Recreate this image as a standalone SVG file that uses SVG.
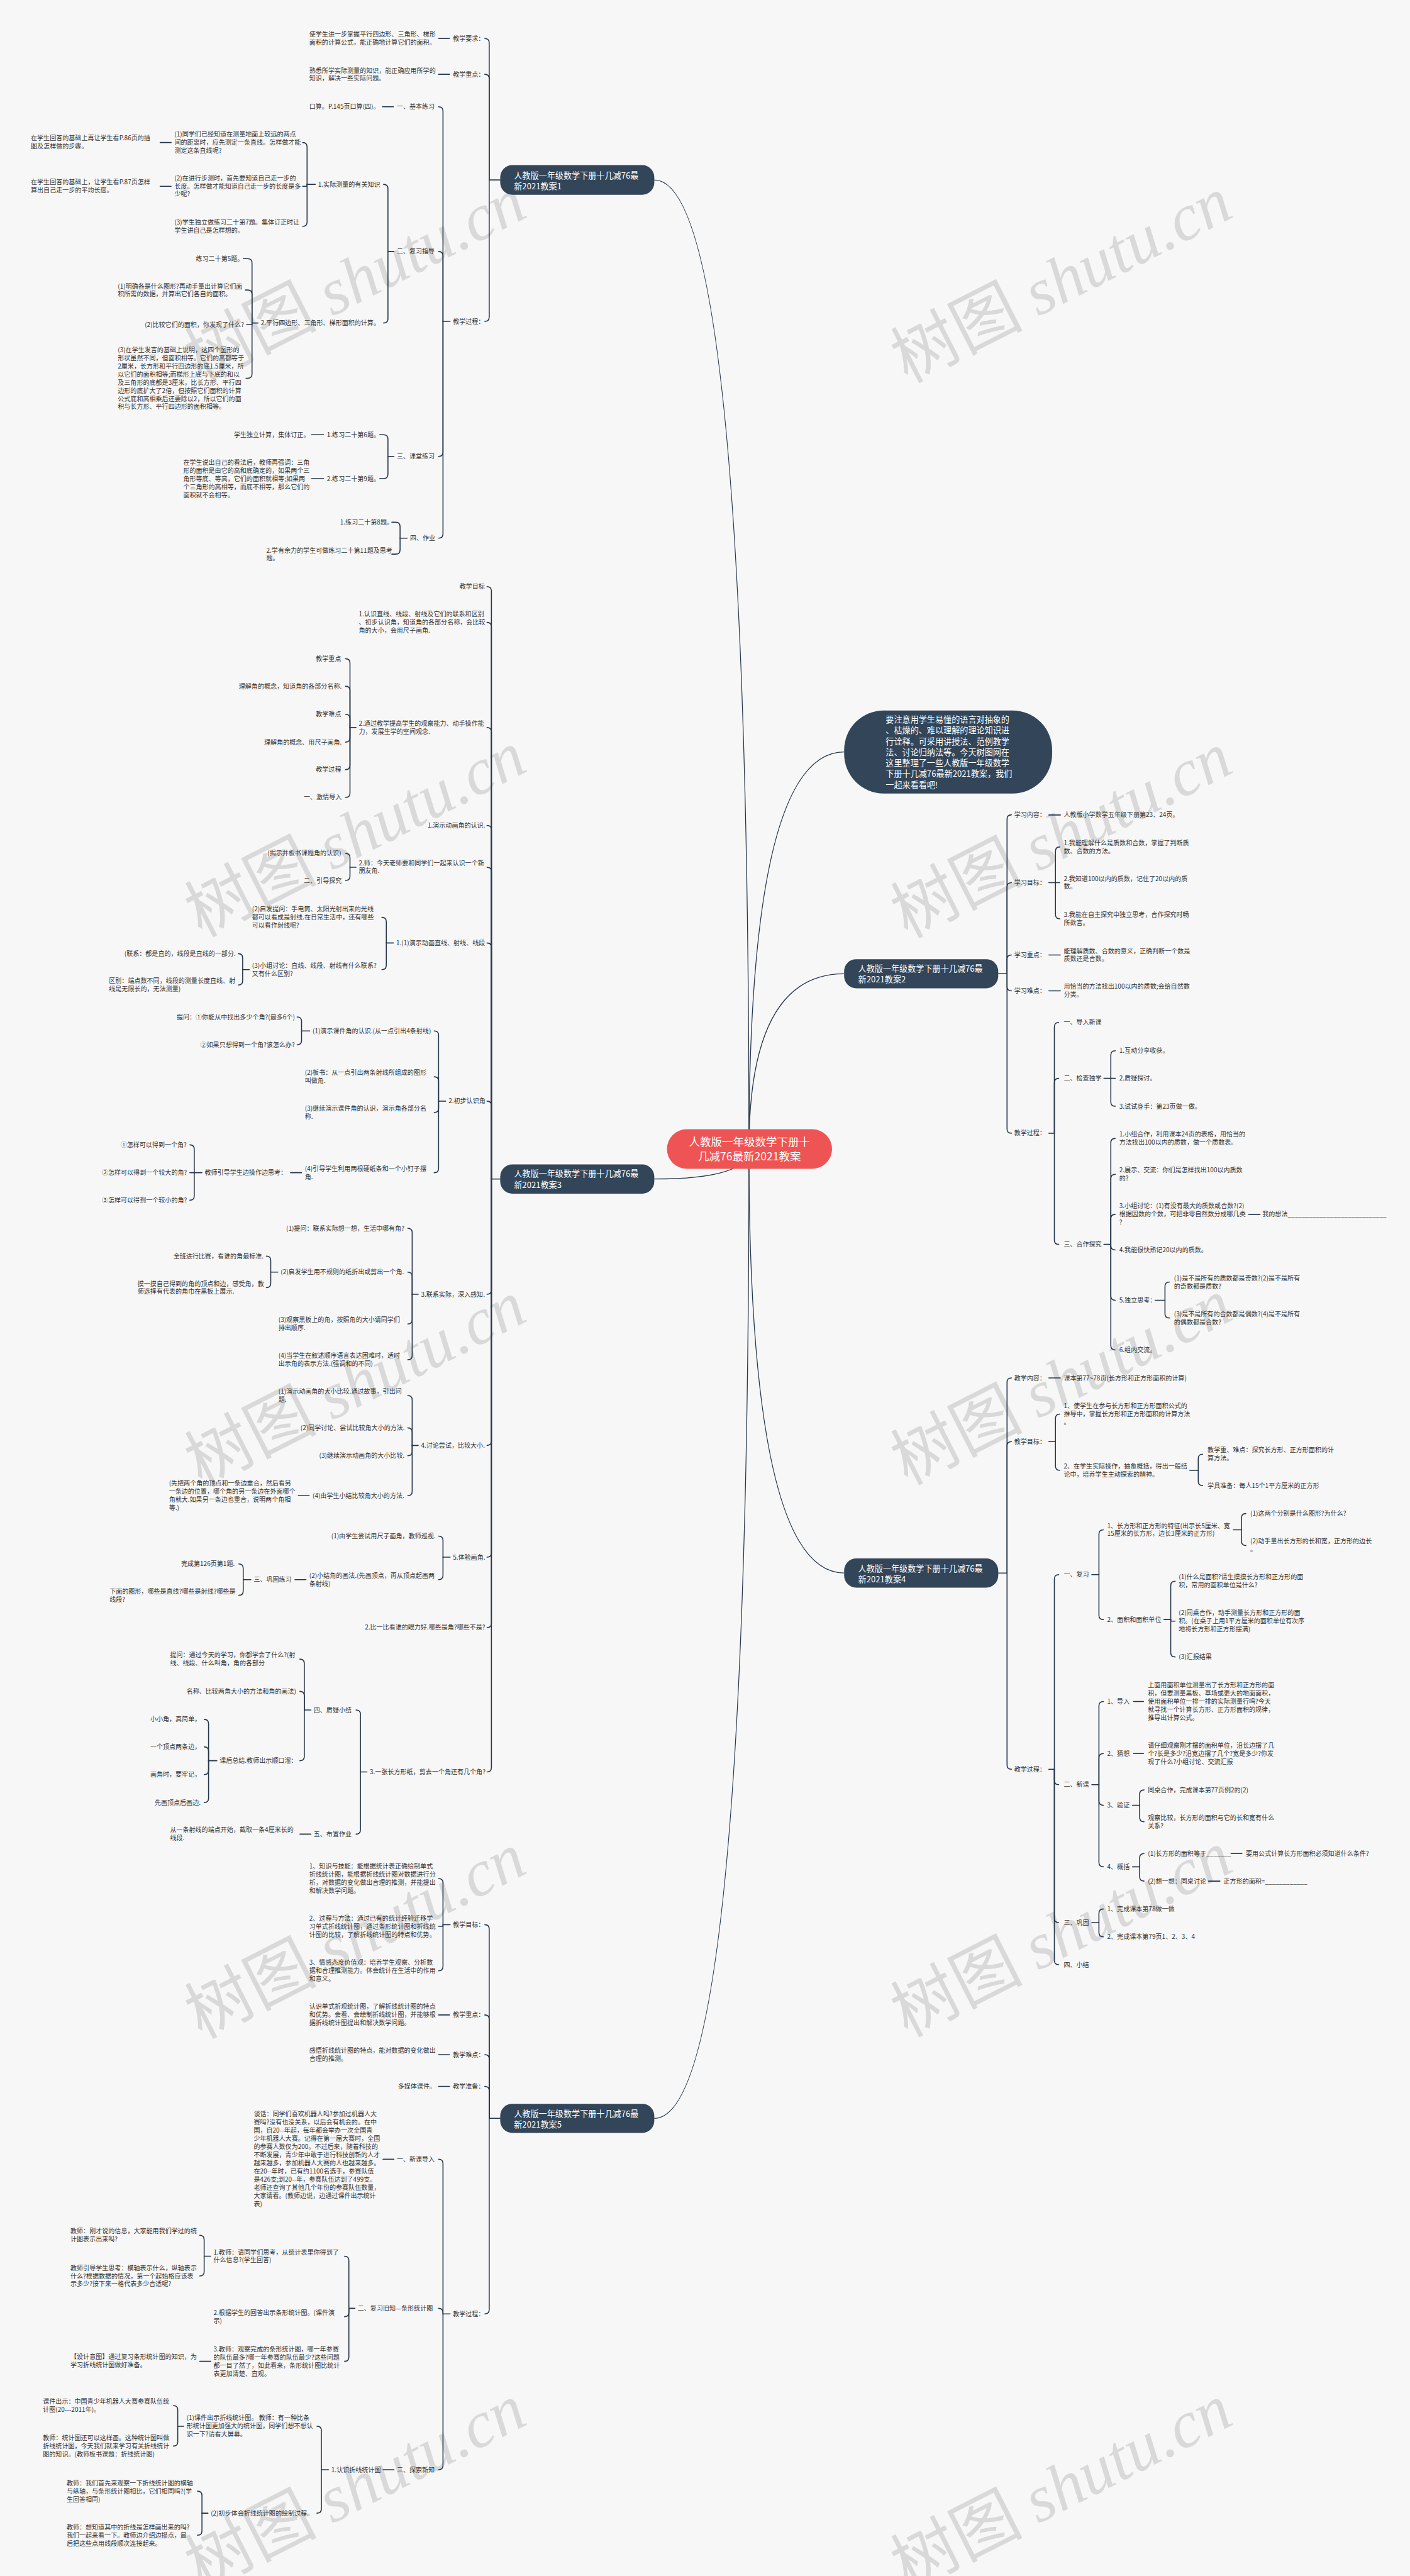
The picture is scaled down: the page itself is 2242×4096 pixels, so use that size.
<svg xmlns="http://www.w3.org/2000/svg" width="2242" height="4096" viewBox="0 0 2242 4096">
<style>
.t{font-family:"Noto Sans CJK SC","Noto Sans",sans-serif;font-size:11.5px;fill:#333}
.bt{font-family:"Noto Sans CJK SC","Noto Sans",sans-serif;font-size:15px;fill:#fff}
.ct{font-family:"Noto Sans CJK SC","Noto Sans",sans-serif;font-size:20px;fill:#fff}
.bn{fill:#324559}
.ln path{fill:none;stroke:#26364a;stroke-width:1.8;stroke-linecap:round}
.mc path{fill:none;stroke:#26364a;stroke-width:1.5}
.wm{font-family:"Noto Sans CJK SC",sans-serif;font-size:120px;fill:#cfcfcf;opacity:.75}
.wm tspan{font-family:"Liberation Serif",serif;font-style:italic}
</style>
<rect width="2242" height="4096" fill="#f7f7f7"/>
<g transform="scale(0.875)">
<g id="watermarks">
<text class="wm" text-anchor="middle" transform="translate(646 509) rotate(-27)" y="40">树图 <tspan>shutu.cn</tspan></text>
<text class="wm" text-anchor="middle" transform="translate(646 1516) rotate(-27)" y="40">树图 <tspan>shutu.cn</tspan></text>
<text class="wm" text-anchor="middle" transform="translate(646 2515) rotate(-27)" y="40">树图 <tspan>shutu.cn</tspan></text>
<text class="wm" text-anchor="middle" transform="translate(646 3518) rotate(-27)" y="40">树图 <tspan>shutu.cn</tspan></text>
<text class="wm" text-anchor="middle" transform="translate(646 4520) rotate(-27)" y="40">树图 <tspan>shutu.cn</tspan></text>
<text class="wm" text-anchor="middle" transform="translate(1929 509) rotate(-27)" y="40">树图 <tspan>shutu.cn</tspan></text>
<text class="wm" text-anchor="middle" transform="translate(1929 1518) rotate(-27)" y="40">树图 <tspan>shutu.cn</tspan></text>
<text class="wm" text-anchor="middle" transform="translate(1929 2512) rotate(-27)" y="40">树图 <tspan>shutu.cn</tspan></text>
<text class="wm" text-anchor="middle" transform="translate(1929 3515) rotate(-27)" y="40">树图 <tspan>shutu.cn</tspan></text>
<text class="wm" text-anchor="middle" transform="translate(1929 4520) rotate(-27)" y="40">树图 <tspan>shutu.cn</tspan></text>
</g>
<g id="connectors">
<g class="mc">
<path d="M1189 327Q1361 327 1361 2088"/>
<path d="M1189 2142.5Q1361 2142.5 1361 2088"/>
<path d="M1189 3849.5Q1361 3849.5 1361 2088"/>
<path d="M1361 2088Q1361 1366.5 1534 1366.5"/>
<path d="M1361 2088Q1361 1769.5 1534 1769.5"/>
<path d="M1361 2088Q1361 2858.5 1534 2858.5"/>
</g>
<g class="ln">
<path d="M909 327H889"/><path d="M889 327V78Q889 70 881 70"/><path d="M889 327V143Q889 135 881 135"/><path d="M889 327V576Q889 584 881 584"/>
<path d="M817 70H797"/><path d="M817 135H797"/>
<path d="M818 584H805"/><path d="M805 584V202Q805 194 797 194"/><path d="M805 584V465Q805 457 797 457"/><path d="M805 584V821.5Q805 829.5 797 829.5"/><path d="M805 584V970Q805 978 797 978"/>
<path d="M715 194H695"/>
<path d="M716 457H705"/><path d="M705 457V343Q705 335 697 335"/><path d="M705 457V579Q705 587 697 587"/>
<path d="M573 335H558"/><path d="M558 335V267Q558 259 550 259"/><path d="M558 335V338.6H550"/><path d="M558 335V403.5Q558 411.5 550 411.5"/>
<path d="M311 259H291"/><path d="M311 338.6H291"/>
<path d="M469 587H458"/><path d="M458 587V478Q458 470 450 470H442"/><path d="M458 587V535Q458 527 450 527H446"/><path d="M458 587V590H448"/><path d="M458 587V679.5Q458 687.5 450 687.5H447"/>
<path d="M716 829.5H705"/><path d="M705 829.5V798Q705 790 697 790H690"/><path d="M705 829.5V861.8Q705 869.8 697 869.8H690"/>
<path d="M588 790H566"/><path d="M588 869.8H566"/>
<path d="M740 978H727"/><path d="M727 978V957Q727 949 719 949H712"/><path d="M727 978V999Q727 1007 719 1007H712"/>

<path d="M909 2142.5H893"/>
<path d="M893 2142.5V1074Q893 1066 885 1066"/><path d="M893 2142.5V1139Q893 1131 885 1131"/><path d="M893 2142.5V1330Q893 1322 885 1322"/><path d="M893 2142.5V1508Q893 1500 885 1500"/><path d="M893 2142.5V1584Q893 1576 885 1576"/><path d="M893 2142.5V1721.6Q893 1713.6 885 1713.6"/><path d="M893 2142.5V2009Q893 2001 885 2001"/><path d="M893 2142.5V2344Q893 2352 885 2352"/><path d="M893 2142.5V2618.7Q893 2626.7 885 2626.7"/><path d="M893 2142.5V2821.8Q893 2829.8 885 2829.8"/><path d="M893 2142.5V2949.7Q893 2957.7 885 2957.7"/><path d="M893 2142.5V3212Q893 3220 885 3220"/>
<path d="M647 1322H636"/><path d="M636 1322V1205Q636 1197 628 1197"/><path d="M636 1322V1255Q636 1247 628 1247"/><path d="M636 1322V1306Q636 1298 628 1298"/><path d="M636 1322V1340.7Q636 1348.7 628 1348.7"/><path d="M636 1322V1390.7Q636 1398.7 628 1398.7"/><path d="M636 1322V1441Q636 1449 628 1449"/>
<path d="M647 1576H636"/><path d="M636 1576V1558.7Q636 1550.7 628 1550.7"/><path d="M636 1576V1592Q636 1600 628 1600"/>
<path d="M715 1713.6H702"/><path d="M702 1713.6V1675Q702 1667 694 1667"/><path d="M702 1713.6V1754Q702 1762 694 1762"/>
<path d="M453 1762H441"/><path d="M441 1762V1741Q441 1733 433 1733"/><path d="M441 1762V1782Q441 1790 433 1790"/>
<path d="M810 2001H797"/><path d="M797 2001V1881.5Q797 1873.5 789 1873.5"/><path d="M797 2001V1964.7Q797 1956.7 789 1956.7"/><path d="M797 2001V2013.7Q797 2021.7 789 2021.7"/><path d="M797 2001V2123Q797 2131 789 2131"/>
<path d="M563 1873.5H548"/><path d="M548 1873.5V1856Q548 1848 540 1848"/><path d="M548 1873.5V1890.7Q548 1898.7 540 1898.7"/>
<path d="M548 2131H528"/>
<path d="M367 2131H353"/><path d="M353 2131V2088.4Q353 2080.4 345 2080.4"/><path d="M353 2131H345"/><path d="M353 2131V2173Q353 2181 345 2181"/>
<path d="M760 2352H749"/><path d="M749 2352V2240Q749 2232 741 2232"/><path d="M749 2352V2319.8Q749 2311.8 741 2311.8"/><path d="M749 2352V2398Q749 2406 741 2406"/><path d="M749 2352V2463Q749 2471 741 2471"/>
<path d="M505 2311.8H492"/><path d="M492 2311.8V2290.5Q492 2282.5 484 2282.5"/><path d="M492 2311.8V2332Q492 2340 484 2340"/>
<path d="M760 2626.7H749"/><path d="M749 2626.7V2544Q749 2536 741 2536"/><path d="M749 2626.7V2602.7Q749 2594.7 741 2594.7"/><path d="M749 2626.7V2637.5Q749 2645.5 741 2645.5"/><path d="M749 2626.7V2710Q749 2718 741 2718"/>
<path d="M562 2718H542"/>
<path d="M818 2829.8H805"/><path d="M805 2829.8V2799.5Q805 2791.5 797 2791.5"/><path d="M805 2829.8V2862.5Q805 2870.5 797 2870.5"/>
<path d="M556 2870.5H536"/>
<path d="M456 2870.5H442"/><path d="M442 2870.5V2850Q442 2842 434 2842"/><path d="M442 2870.5V2891Q442 2899 434 2899"/>
<path d="M667 3220H655"/><path d="M655 3220V3115.5Q655 3107.5 647 3107.5"/><path d="M655 3220V3325Q655 3333 647 3333"/>
<path d="M565 3107.5H553"/><path d="M553 3107.5V3023Q553 3015 545 3015"/><path d="M553 3107.5V3081.6Q553 3073.6 545 3073.6"/><path d="M553 3107.5V3191.6Q553 3199.6 545 3199.6"/>
<path d="M394 3199.6H379"/><path d="M379 3199.6V3132.4Q379 3124.4 371 3124.4"/><path d="M379 3199.6V3182.4Q379 3174.4 371 3174.4"/><path d="M379 3199.6V3216.8Q379 3224.8 371 3224.8"/><path d="M379 3199.6V3267.6Q379 3275.6 371 3275.6"/>
<path d="M565 3333H545"/>

<path d="M909 3849.5H889"/><path d="M889 3849.5V3505.6Q889 3497.6 881 3497.6"/><path d="M889 3849.5V3669.6Q889 3661.6 881 3661.6"/><path d="M889 3849.5V3741.8Q889 3733.8 881 3733.8"/><path d="M889 3849.5V3799.4Q889 3791.4 881 3791.4"/><path d="M889 3849.5V4196.9Q889 4204.9 881 4204.9"/>
<path d="M818 3497.6H805"/><path d="M805 3497.6V3421.7Q805 3413.7 797 3413.7"/><path d="M805 3497.6V3500.6H797"/><path d="M805 3497.6V3573.5Q805 3581.5 797 3581.5"/>
<path d="M817 3661.6H797"/><path d="M817 3733.8H797"/><path d="M817 3791.4H797"/>
<path d="M818 4204.9H805"/><path d="M805 4204.9V3931.8Q805 3923.8 797 3923.8"/><path d="M805 4204.9V4202.7Q805 4194.7 797 4194.7"/><path d="M805 4204.9V4480Q805 4488 797 4488"/>
<path d="M716 3923.8H696"/>
<path d="M645 4194.7H634"/><path d="M634 4194.7V4108Q634 4100 626 4100"/><path d="M634 4194.7V4202Q634 4210 626 4210"/><path d="M634 4194.7V4283Q634 4291 626 4291"/>
<path d="M383 4100H371"/><path d="M371 4100V4070Q371 4062 363 4062"/><path d="M371 4100V4128Q371 4136 363 4136"/>
<path d="M383 4291H363"/>
<path d="M716 4488H696"/>
<path d="M597 4488H584"/><path d="M584 4488V4417Q584 4409 576 4409"/><path d="M584 4488V4559Q584 4567 576 4567"/>
<path d="M334 4409H323"/><path d="M323 4409V4379.5Q323 4371.5 315 4371.5"/><path d="M323 4409V4437Q323 4445 315 4445"/>
<path d="M378 4567H367"/><path d="M367 4567V4535Q367 4527 359 4527"/><path d="M367 4567V4599Q367 4607 359 4607"/>

<path d="M1814 1769.5H1830"/><path d="M1830 1769.5V1488.7Q1830 1480.7 1838 1480.7"/><path d="M1830 1769.5V1612Q1830 1604 1838 1604"/><path d="M1830 1769.5V1743.4Q1830 1735.4 1838 1735.4"/><path d="M1830 1769.5V1792.5Q1830 1800.5 1838 1800.5"/><path d="M1830 1769.5V2051.3Q1830 2059.3 1838 2059.3"/>
<path d="M1906 1481H1927"/>
<path d="M1906 1604H1918"/><path d="M1918 1604V1547Q1918 1539 1926 1539"/><path d="M1918 1604H1926"/><path d="M1918 1604V1661.7Q1918 1669.7 1926 1669.7"/>
<path d="M1906 1735.4H1927"/><path d="M1906 1800.5H1927"/>
<path d="M1906 2059.3H1916"/><path d="M1916 2059.3V1866Q1916 1858 1924 1858"/><path d="M1916 2059.3V1967.6Q1916 1959.6 1924 1959.6"/><path d="M1916 2059.3V2253.3Q1916 2261.3 1924 2261.3"/>
<path d="M2006 1959.6H2018.6"/><path d="M2018.6 1959.6V1917.5Q2018.6 1909.5 2026.6 1909.5"/><path d="M2018.6 1959.6H2026.6"/><path d="M2018.6 1959.6V2002.4Q2018.6 2010.4 2026.6 2010.4"/>
<path d="M2006 2261.3H2018.6"/><path d="M2018.6 2261.3V2076.7Q2018.6 2068.7 2026.6 2068.7"/><path d="M2018.6 2261.3V2142Q2018.6 2134 2026.6 2134"/><path d="M2018.6 2261.3V2214.7Q2018.6 2206.7 2026.6 2206.7"/><path d="M2018.6 2261.3V2263.5Q2018.6 2271.5 2026.6 2271.5"/><path d="M2018.6 2261.3V2354.9Q2018.6 2362.9 2026.6 2362.9"/><path d="M2018.6 2261.3V2445.2Q2018.6 2453.2 2026.6 2453.2"/>
<path d="M2269 2206.7H2290"/>
<path d="M2099 2362.9H2117"/><path d="M2117 2362.9V2337.8Q2117 2329.8 2125 2329.8"/><path d="M2117 2362.9V2387Q2117 2395 2125 2395"/>

<path d="M1814 2858.5H1830"/><path d="M1830 2858.5V2512Q1830 2504 1838 2504"/><path d="M1830 2858.5V2627.8Q1830 2619.8 1838 2619.8"/><path d="M1830 2858.5V3207.2Q1830 3215.2 1838 3215.2"/>
<path d="M1906 2504H1927"/>
<path d="M1906 2619.8H1918"/><path d="M1918 2619.8V2577.8Q1918 2569.8 1926 2569.8"/><path d="M1918 2619.8V2664Q1918 2672 1926 2672"/>
<path d="M2162 2672H2177.5"/><path d="M2177.5 2672V2650.5Q2177.5 2642.5 2185.5 2642.5"/><path d="M2177.5 2672V2691.6Q2177.5 2699.6 2185.5 2699.6"/>
<path d="M1906 3215.2H1916"/><path d="M1916 3215.2V2869.4Q1916 2861.4 1924 2861.4"/><path d="M1916 3215.2V3235.1Q1916 3243.1 1924 3243.1"/><path d="M1916 3215.2V3485.8Q1916 3493.8 1924 3493.8"/><path d="M1916 3215.2V3562.3Q1916 3570.3 1924 3570.3"/>
<path d="M1984 2861.4H1997"/><path d="M1997 2861.4V2788Q1997 2780 2005 2780"/><path d="M1997 2861.4V2935Q1997 2943 2005 2943"/>
<path d="M2241 2780H2256"/><path d="M2256 2780V2758.4Q2256 2750.4 2264 2750.4"/><path d="M2256 2780V2800.5Q2256 2808.5 2264 2808.5"/>
<path d="M2115 2943H2127.5"/><path d="M2127.5 2943V2881.5Q2127.5 2873.5 2135.5 2873.5"/><path d="M2127.5 2943V2946H2135.5"/><path d="M2127.5 2943V3003Q2127.5 3011 2135.5 3011"/>
<path d="M1984 3243.1H1997"/><path d="M1997 3243.1V3100Q1997 3092 2005 3092"/><path d="M1997 3243.1V3194.5Q1997 3186.5 2005 3186.5"/><path d="M1997 3243.1V3272.6Q1997 3280.6 2005 3280.6"/><path d="M1997 3243.1V3384.4Q1997 3392.4 2005 3392.4"/>
<path d="M2060 3092H2078"/><path d="M2060 3186.5H2078"/>
<path d="M2058 3280.6H2071"/><path d="M2071 3280.6V3260.7Q2071 3252.7 2079 3252.7"/><path d="M2071 3280.6V3302.5Q2071 3310.5 2079 3310.5"/>
<path d="M2058 3392.4H2071"/><path d="M2071 3392.4V3376.3Q2071 3368.3 2079 3368.3"/><path d="M2071 3392.4V3410.4Q2071 3418.4 2079 3418.4"/>
<path d="M2237 3368.3H2257"/><path d="M2196 3418.4H2217"/>
<path d="M1984 3493.8H1997"/><path d="M1997 3493.8V3477Q1997 3469 2005 3469"/><path d="M1997 3493.8V3511.8Q1997 3519.8 2005 3519.8"/>
</g>
</g>

<g id="center"><rect x="1212" y="2052" width="300" height="72" rx="36" fill="#ee5454"/><text class="ct" text-anchor="middle" x="1362" y="2082.5">人教版一年级数学下册十<tspan x="1362" dy="26">几减76最新2021教案</tspan></text></g>
<g id="intro"><rect x="1534" y="1291" width="378" height="151" rx="72" class="bn"/><text class="bt" x="1609.5" y="1313.1"><tspan x="1609.5">要注意用学生易懂的语言对抽象的</tspan><tspan x="1609.5" dy="19.75">、枯燥的、难以理解的理论知识进</tspan><tspan x="1609.5" dy="19.75">行诠释。可采用讲授法、范例教学</tspan><tspan x="1609.5" dy="19.75">法、讨论归纳法等。今天树图网在</tspan><tspan x="1609.5" dy="19.75">这里整理了一些人教版一年级数学</tspan><tspan x="1609.5" dy="19.75">下册十几减76最新2021教案，我们</tspan><tspan x="1609.5" dy="19.75">一起来看看吧!</tspan></text></g>

<g id="b1"><rect x="909" y="300" width="280" height="54" rx="22" class="bn"/><text class="bt" x="934" y="324.5">人教版一年级数学下册十几减76最<tspan x="934" dy="20">新2021教案1</tspan></text></g>
<g id="b1-1"><text class="t" x="823" y="74">教学要求：</text></g>
<g id="b1-2"><text class="t" x="823" y="139">教学重点：</text></g>
<g id="b1-3"><text class="t" x="823" y="588">教学过程：</text></g>
<g id="b1-1a"><text class="t" x="562" y="66">使学生进一步掌握平行四边形、三角形、梯形<tspan x="562" dy="14.8">面积的计算公式，能正确地计算它们的面积。</tspan></text></g>
<g id="b1-2a"><text class="t" x="562" y="132">熟悉所学实际测量的知识，能正确应用所学的<tspan x="562" dy="14.8">知识，解决一些实际问题。</tspan></text></g>
<g id="b1-3a"><text class="t" x="721" y="198">一、基本练习</text></g>
<g id="b1-3b"><text class="t" x="721" y="461">二、复习指导</text></g>
<g id="b1-3c"><text class="t" x="721" y="833.5">三、课堂练习</text></g>
<g id="b1-3d"><text class="t" x="745" y="982">四、作业</text></g>
<g id="b1-3a1"><text class="t" x="562" y="198">口算。P.145页口算(四)。</text></g>
<g id="b1-3b1"><text class="t" x="578" y="339">1.实际测量的有关知识</text></g>
<g id="b1-3b2"><text class="t" x="474" y="591">2.平行四边形、三角形、梯形面积的计算。</text></g>
<g id="b1-3b1a"><text class="t" x="317" y="248">(1)同学们已经知道在测量地面上较远的两点<tspan x="317" dy="14.8">间的距离时，应先测定一条直线。怎样做才能</tspan><tspan x="317" dy="14.8">测定这条直线呢?</tspan></text></g>
<g id="b1-3b1b"><text class="t" x="317" y="327.5">(2)在进行步测时，首先要知道自己走一步的<tspan x="317" dy="14.8">长度。怎样做才能知道自己走一步的长度是多</tspan><tspan x="317" dy="14.8">少呢?</tspan></text></g>
<g id="b1-3b1c"><text class="t" x="317" y="408.4">(3)学生独立做练习二十第7题。集体订正时让<tspan x="317" dy="14.8">学生讲自己是怎样想的。</tspan></text></g>
<g id="b1-3b1a1"><text class="t" x="56" y="255">在学生回答的基础上再让学生看P.86页的插<tspan x="56" dy="14.8">图及怎样做的步骤。</tspan></text></g>
<g id="b1-3b1b1"><text class="t" x="56" y="335">在学生回答的基础上，让学生看P.87页怎样<tspan x="56" dy="14.8">算出自己走一步的平均长度。</tspan></text></g>
<g id="b1-3b2a"><text class="t" x="356" y="474">练习二十第5题。</text></g>
<g id="b1-3b2b"><text class="t" x="214" y="524">(1)明确各是什么图形?再动手量出计算它们面<tspan x="214" dy="14.8">积所需的数据，并算出它们各自的面积。</tspan></text></g>
<g id="b1-3b2c"><text class="t" x="263" y="594">(2)比较它们的面积，你发现了什么?</text></g>
<g id="b1-3b2d"><text class="t" x="214" y="639.8">(3)在学生发言的基础上说明，这四个图形的<tspan x="214" dy="14.8">形状虽然不同，但面积相等。它们的高都等于</tspan><tspan x="214" dy="14.8">2厘米，长方形和平行四边形的底1.5厘米，所</tspan><tspan x="214" dy="14.8">以它们的面积相等;而梯形上底与下底的和以</tspan><tspan x="214" dy="14.8">及三角形的底都是3厘米，比长方形、平行四</tspan><tspan x="214" dy="14.8">边形的底扩大了2倍，但按照它们面积的计算</tspan><tspan x="214" dy="14.8">公式底和高相乘后还要除以2，所以它们的面</tspan><tspan x="214" dy="14.8">积与长方形、平行四边形的面积相等。</tspan></text></g>
<g id="b1-3c1"><text class="t" x="594" y="794">1.练习二十第6题。</text></g>
<g id="b1-3c2"><text class="t" x="594" y="873.8">2.练习二十第9题。</text></g>
<g id="b1-3c1a"><text class="t" x="425" y="794">学生独立计算，集体订正。</text></g>
<g id="b1-3c2a"><text class="t" x="333" y="844.4">在学生说出自己的看法后，教师再强调：三角<tspan x="333" dy="14.8">形的面积是由它的高和底确定的，如果两个三</tspan><tspan x="333" dy="14.8">角形等底、等高，它们的面积就相等;如果两</tspan><tspan x="333" dy="14.8">个三角形的高相等，而底不相等，那么它们的</tspan><tspan x="333" dy="14.8">面积就不会相等。</tspan></text></g>
<g id="b1-3d1"><text class="t" x="618" y="953">1.练习二十第8题。</text></g>
<g id="b1-3d2"><text class="t" x="484" y="1004">2.学有余力的学生可做练习二十第11题及思考<tspan x="484" dy="14.8">题。</tspan></text></g>

<g id="b3"><rect x="909" y="2116" width="280" height="53" rx="22" class="bn"/><text class="bt" x="934" y="2138.5">人教版一年级数学下册十几减76最<tspan x="934" dy="20">新2021教案3</tspan></text></g>
<g id="b3-1"><text class="t" x="835" y="1070">教学目标</text></g>
<g id="b3-2"><text class="t" x="652" y="1120">1.认识直线、线段、射线及它们的联系和区别<tspan x="652" dy="14.8">、初步认识角，知道角的各部分名称，会比较</tspan><tspan x="652" dy="14.8">角的大小，会用尺子画角.</tspan></text></g>
<g id="b3-3"><text class="t" x="652" y="1318.6">2.通过教学提高学生的观察能力、动手操作能<tspan x="652" dy="14.8">力，发展生学的空间观念.</tspan></text></g>
<g id="b3-3a"><text class="t" x="574" y="1201">教学重点</text></g>
<g id="b3-3b"><text class="t" x="434" y="1251">理解角的概念，知道角的各部分名称.</text></g>
<g id="b3-3c"><text class="t" x="574" y="1302">教学难点</text></g>
<g id="b3-3d"><text class="t" x="480" y="1352.7">理解角的概念、用尺子画角.</text></g>
<g id="b3-3e"><text class="t" x="574" y="1402.7">教学过程</text></g>
<g id="b3-3f"><text class="t" x="552" y="1453">一、激情导入</text></g>
<g id="b3-4"><text class="t" x="777" y="1504">1.演示动画角的认识.</text></g>
<g id="b3-5"><text class="t" x="652" y="1572">2.师：今天老师要和同学们一起来认识一个新<tspan x="652" dy="14.8">朋友角.</tspan></text></g>
<g id="b3-5a"><text class="t" x="486" y="1554.7">(揭示并板书课题角的认识)</text></g>
<g id="b3-5b"><text class="t" x="552" y="1604">二、引导探究</text></g>
<g id="b3-6"><text class="t" x="720" y="1717.6">1.(1)演示动画直线、射线、线段</text></g>
<g id="b3-6a"><text class="t" x="458" y="1656.3">(2)启发提问：手电筒、太阳光射出来的光线<tspan x="458" dy="14.8">都可以看成是射线.在日常生活中，还有哪些</tspan><tspan x="458" dy="14.8">可以看作射线呢?</tspan></text></g>
<g id="b3-6b"><text class="t" x="458" y="1758.6">(3)小组讨论：直线、线段、射线有什么联系?<tspan x="458" dy="14.8">又有什么区别?</tspan></text></g>
<g id="b3-6b1"><text class="t" x="226" y="1737">(联系：都是直的，线段是直线的一部分.</text></g>
<g id="b3-6b2"><text class="t" x="198" y="1786.6">区别：端点数不同，线段的测量长度直线、射<tspan x="198" dy="14.8">线是无限长的，无法测量)</tspan></text></g>
<g id="b3-7"><text class="t" x="815" y="2005">2.初步认识角</text></g>
<g id="b3-7a"><text class="t" x="568" y="1877.5">(1)演示课件角的认识.(从一点引出4条射线)</text></g>
<g id="b3-7b"><text class="t" x="554" y="1953.3">(2)板书：从一点引出两条射线所组成的图形<tspan x="554" dy="14.8">叫做角.</tspan></text></g>
<g id="b3-7c"><text class="t" x="554" y="2018.3">(3)继续演示课件角的认识，演示角各部分名<tspan x="554" dy="14.8">称.</tspan></text></g>
<g id="b3-7d"><text class="t" x="554" y="2127.6">(4)引导学生利用两根硬纸条和一个小钉子摆<tspan x="554" dy="14.8">角.</tspan></text></g>
<g id="b3-7a1"><text class="t" x="321" y="1852">提问：①你能从中找出多少个角?(最多6个)</text></g>
<g id="b3-7a2"><text class="t" x="364" y="1902.7">②如果只想得到一个角?该怎么办?</text></g>
<g id="b3-7d1"><text class="t" x="372" y="2135">教师引导学生边操作边思考：</text></g>
<g id="b3-7d1a"><text class="t" x="219" y="2084.4">①怎样可以得到一个角?</text></g>
<g id="b3-7d1b"><text class="t" x="185" y="2135">②怎样可以得到一个较大的角?</text></g>
<g id="b3-7d1c"><text class="t" x="185" y="2185">③怎样可以得到一个较小的角?</text></g>
<g id="b3-8"><text class="t" x="765" y="2356">3.联系实际，深入感知.</text></g>
<g id="b3-8a"><text class="t" x="520" y="2236">(1)提问：联系实际想一想，生活中哪有角?</text></g>
<g id="b3-8b"><text class="t" x="510" y="2315.8">(2)启发学生用不规则的纸折出或剪出一个角.</text></g>
<g id="b3-8b1"><text class="t" x="315" y="2286.5">全班进行比赛，看谁的角最标准.</text></g>
<g id="b3-8b2"><text class="t" x="250" y="2336.6">摸一摸自己得到的角的顶点和边，感受角，教<tspan x="250" dy="14.8">师选择有代表的角巾在黑板上展示.</tspan></text></g>
<g id="b3-8c"><text class="t" x="506" y="2402.6">(3)观察黑板上的角，按照角的大小请同学们<tspan x="506" dy="14.8">排出顺序.</tspan></text></g>
<g id="b3-8d"><text class="t" x="506" y="2467.6">(4)当学生在叙述顺序语言表达困难时，适时<tspan x="506" dy="14.8">出示角的表示方法.(强调和的不同)</tspan></text></g>
<g id="b3-9"><text class="t" x="765" y="2630.7">4.讨论尝试，比较大小.</text></g>
<g id="b3-9a"><text class="t" x="506" y="2532.6">(1)演示动画角的大小比较.通过故事，引出问<tspan x="506" dy="14.8">题.</tspan></text></g>
<g id="b3-9b"><text class="t" x="546" y="2598.7">(2)同学讨论、尝试比较角大小的方法.</text></g>
<g id="b3-9c"><text class="t" x="580" y="2649.5">(3)继续演示动画角的大小比较.</text></g>
<g id="b3-9d"><text class="t" x="568" y="2722">(4)由学生小结比较角大小的方法.</text></g>
<g id="b3-9d1"><text class="t" x="307" y="2699.8">(先把两个角的顶点和一条边重合，然后看另<tspan x="307" dy="14.8">一条边的位置，哪个角的另一条边在外面哪个</tspan><tspan x="307" dy="14.8">角就大.如果另一条边也重合，说明两个角相</tspan><tspan x="307" dy="14.8">等.)</tspan></text></g>
<g id="b3-10"><text class="t" x="823" y="2833.8">5.体验画角.</text></g>
<g id="b3-10a"><text class="t" x="602" y="2795.5">(1)由学生尝试用尺子画角，教师巡视.</text></g>
<g id="b3-10b"><text class="t" x="562" y="2867.1">(2)小结角的画法.(先画顶点，再从顶点起画两<tspan x="562" dy="14.8">条射线)</tspan></text></g>
<g id="b3-10b1"><text class="t" x="461" y="2874.5">三、巩固练习</text></g>
<g id="b3-10b1a"><text class="t" x="329" y="2846">完成第126页第1题.</text></g>
<g id="b3-10b1b"><text class="t" x="199" y="2895.6">下面的图形，哪些是直线?哪些是射线?哪些是<tspan x="199" dy="14.8">线段?</tspan></text></g>
<g id="b3-11"><text class="t" x="663" y="2961.7">2.比一比看谁的眼力好.哪些是角?哪些不是?</text></g>
<g id="b3-12"><text class="t" x="672" y="3224">3.一张长方形纸，剪去一个角还有几个角?</text></g>
<g id="b3-12a"><text class="t" x="570" y="3111.5">四、质疑小结</text></g>
<g id="b3-12b"><text class="t" x="570" y="3337">五、布置作业</text></g>
<g id="b3-12a1"><text class="t" x="309" y="3011.6">提问：通过今天的学习，你都学会了什么?(射<tspan x="309" dy="14.8">线、线段、什么叫角，角的各部分</tspan></text></g>
<g id="b3-12a2"><text class="t" x="339" y="3077.6">名称、比较两角大小的方法和角的画法)</text></g>
<g id="b3-12a3"><text class="t" x="399" y="3203.6">课后总结.教师出示顺口溜：</text></g>
<g id="b3-12a3a"><text class="t" x="273" y="3128.4">小小角，真简单，</text></g>
<g id="b3-12a3b"><text class="t" x="273" y="3178.4">一个顶点两条边，</text></g>
<g id="b3-12a3c"><text class="t" x="273" y="3228.8">画角时，要牢记，</text></g>
<g id="b3-12a3d"><text class="t" x="281" y="3279.6">先画顶点后画边.</text></g>
<g id="b3-12b1"><text class="t" x="309" y="3329.6">从一条射线的端点开始，截取一条4厘米长的<tspan x="309" dy="14.8">线段.</tspan></text></g>

<g id="b5"><rect x="909" y="3823" width="280" height="53" rx="22" class="bn"/><text class="bt" x="934" y="3846.5">人教版一年级数学下册十几减76最<tspan x="934" dy="20">新2021教案5</tspan></text></g>
<g id="b5-1"><text class="t" x="823" y="3501.6">教学目标：</text></g>
<g id="b5-2"><text class="t" x="823" y="3665.6">教学重点：</text></g>
<g id="b5-3"><text class="t" x="823" y="3737.8">教学难点：</text></g>
<g id="b5-4"><text class="t" x="823" y="3795.4">教学准备：</text></g>
<g id="b5-5"><text class="t" x="823" y="4208.9">教学过程：</text></g>
<g id="b5-1a"><text class="t" x="562" y="3395.5">1、知识与技能：能根据统计表正确绘制单式<tspan x="562" dy="14.8">折线统计图，能根据折线统计图对数据进行分</tspan><tspan x="562" dy="14.8">析，对数据的变化做出合理的推测，并能提出</tspan><tspan x="562" dy="14.8">和解决数学问题。</tspan></text></g>
<g id="b5-1b"><text class="t" x="562" y="3490.3">2、过程与方法：通过已有的统计经验迁移学<tspan x="562" dy="14.8">习单式折线统计图，通过条形统计图和折线统</tspan><tspan x="562" dy="14.8">计图的比较，了解折线统计图的特点和优势。</tspan></text></g>
<g id="b5-1c"><text class="t" x="562" y="3570.4">3、情感态度价值观：培养学生观察、分析数<tspan x="562" dy="14.8">据和合理推测能力。体会统计在生活中的作用</tspan><tspan x="562" dy="14.8">和意义。</tspan></text></g>
<g id="b5-2a"><text class="t" x="562" y="3650.2">认识单式折现统计图，了解折线统计图的特点<tspan x="562" dy="14.8">和优势。会看、会绘制折线统计图，并能够根</tspan><tspan x="562" dy="14.8">据折线统计图提出和解决数学问题。</tspan></text></g>
<g id="b5-3a"><text class="t" x="562" y="3730.4">感悟折线统计图的特点，能对数据的变化做出<tspan x="562" dy="14.8">合理的推测。</tspan></text></g>
<g id="b5-4a"><text class="t" x="723" y="3795.4">多媒体课件。</text></g>
<g id="b5-5a"><text class="t" x="721" y="3927.8">一、新课导入</text></g>
<g id="b5-5b"><text class="t" x="650" y="4198.7">二、复习旧知—条形统计图</text></g>
<g id="b5-5c"><text class="t" x="721" y="4492">三、探索新知</text></g>
<g id="b5-5a1"><text class="t" x="461" y="3846.2">谈话：同学们喜欢机器人吗?参加过机器人大<tspan x="461" dy="14.8">赛吗?没有也没关系，以后会有机会的。在中</tspan><tspan x="461" dy="14.8">国，自20--年起，每年都会举办一次全国青</tspan><tspan x="461" dy="14.8">少年机器人大赛。记得在第一届大赛时，全国</tspan><tspan x="461" dy="14.8">的参赛人数仅为200。不过后来，随着科技的</tspan><tspan x="461" dy="14.8">不断发展，青少年中敢于进行科技创新的人才</tspan><tspan x="461" dy="14.8">越来越多，参加机器人大赛的人也越来越多。</tspan><tspan x="461" dy="14.8">在20--年时，已有约1100名选手，参赛队伍</tspan><tspan x="461" dy="14.8">是426支;到20--年，参赛队伍达到了499支。</tspan><tspan x="461" dy="14.8">老师还查询了其他几个年份的参赛队伍数量，</tspan><tspan x="461" dy="14.8">大家请看。(教师边说，边通过课件出示统计</tspan><tspan x="461" dy="14.8">表)</tspan></text></g>
<g id="b5-5b1"><text class="t" x="388" y="4096.6">1.教师：请同学们思考，从统计表里你得到了<tspan x="388" dy="14.8">什么信息?(学生回答)</tspan></text></g>
<g id="b5-5b2"><text class="t" x="388" y="4206.6">2.根据学生的回答出示条形统计图。(课件演<tspan x="388" dy="14.8">示)</tspan></text></g>
<g id="b5-5b3"><text class="t" x="388" y="4272.8">3.教师：观察完成的条形统计图，哪一年参赛<tspan x="388" dy="14.8">的队伍最多?哪一年参赛的队伍最少?这些问题</tspan><tspan x="388" dy="14.8">都一目了然了，如此看来，条形统计图比统计</tspan><tspan x="388" dy="14.8">表更加清楚、直观。</tspan></text></g>
<g id="b5-5b1a"><text class="t" x="128" y="4058.6">教师：刚才说的信息，大家能用我们学过的统<tspan x="128" dy="14.8">计图表示出来吗?</tspan></text></g>
<g id="b5-5b1b"><text class="t" x="128" y="4125.2">教师引导学生思考：横轴表示什么，纵轴表示<tspan x="128" dy="14.8">什么?根据数据的情况，第一个起始格应该表</tspan><tspan x="128" dy="14.8">示多少?接下来一格代表多少合适呢?</tspan></text></g>
<g id="b5-5b3a"><text class="t" x="128" y="4286.6">【设计意图】通过复习条形统计图的知识，为<tspan x="128" dy="14.8">学习折线统计图做好准备。</tspan></text></g>
<g id="b5-5c1"><text class="t" x="602" y="4492">1.认识折线统计图</text></g>
<g id="b5-5c1a"><text class="t" x="339" y="4398.2">(1)课件出示折线统计图。 教师：有一种比条<tspan x="339" dy="14.8">形统计图更加强大的统计图，同学们想不想认</tspan><tspan x="339" dy="14.8">识一下?请看大屏幕。</tspan></text></g>
<g id="b5-5c1b"><text class="t" x="383" y="4571">(2)初步体会折线统计图的绘制过程。</text></g>
<g id="b5-5c1a1"><text class="t" x="78" y="4368.1">课件出示：中国青少年机器人大赛参赛队伍统<tspan x="78" dy="14.8">计图(20---2011年)。</tspan></text></g>
<g id="b5-5c1a2"><text class="t" x="78" y="4434.2">教师：统计图还可以这样画。这种统计图叫做<tspan x="78" dy="14.8">折线统计图，今天我们就来学习有关折线统计</tspan><tspan x="78" dy="14.8">图的知识。(教师板书课题：折线统计图)</tspan></text></g>
<g id="b5-5c1b1"><text class="t" x="121" y="4516.2">教师：我们首先来观察一下折线统计图的横轴<tspan x="121" dy="14.8">与纵轴，与条形统计图相比，它们相同吗?(学</tspan><tspan x="121" dy="14.8">生回答相同)</tspan></text></g>
<g id="b5-5c1b2"><text class="t" x="121" y="4596.2">教师：想知道其中的折线是怎样画出来的吗?<tspan x="121" dy="14.8">我们一起来看一下。教师边介绍边描点，最</tspan><tspan x="121" dy="14.8">后把这些点用线段顺次连接起来。</tspan></text></g>

<g id="b2"><rect x="1534" y="1743" width="280" height="53" rx="22" class="bn"/><text class="bt" x="1559.5" y="1765.5">人教版一年级数学下册十几减76最<tspan x="1559.5" dy="20">新2021教案2</tspan></text></g>
<g id="b2-1"><text class="t" x="1843" y="1484.7">学习内容：</text></g>
<g id="b2-2"><text class="t" x="1843" y="1608">学习目标：</text></g>
<g id="b2-3"><text class="t" x="1843" y="1739.4">学习重点：</text></g>
<g id="b2-4"><text class="t" x="1843" y="1804.5">学习难点：</text></g>
<g id="b2-5"><text class="t" x="1843" y="2063.3">教学过程：</text></g>
<g id="b2-1a"><text class="t" x="1933" y="1485">人教版小学数学五年级下册第23、24页。</text></g>
<g id="b2-2a"><text class="t" x="1933" y="1535.6">1.我能理解什么是质数和合数，掌握了判断质<tspan x="1933" dy="14.8">数、合数的方法。</tspan></text></g>
<g id="b2-2b"><text class="t" x="1933" y="1600.6">2.我知道100以内的质数，记住了20以内的质<tspan x="1933" dy="14.8">数。</tspan></text></g>
<g id="b2-2c"><text class="t" x="1933" y="1666.3">3.我能在自主探究中独立思考，合作探究时畅<tspan x="1933" dy="14.8">所欲言。</tspan></text></g>
<g id="b2-3a"><text class="t" x="1933" y="1732">能理解质数、合数的意义，正确判断一个数是<tspan x="1933" dy="14.8">质数还是合数。</tspan></text></g>
<g id="b2-4a"><text class="t" x="1933" y="1797.1">用恰当的方法找出100以内的质数;会给自然数<tspan x="1933" dy="14.8">分类。</tspan></text></g>
<g id="b2-5a"><text class="t" x="1933" y="1862">一、导入新课</text></g>
<g id="b2-5b"><text class="t" x="1933" y="1963.6">二、检查独学</text></g>
<g id="b2-5c"><text class="t" x="1933" y="2265.3">三、合作探究</text></g>
<g id="b2-5b1"><text class="t" x="2034" y="1913.5">1.互动分享收获。</text></g>
<g id="b2-5b2"><text class="t" x="2034" y="1963.6">2.质疑探讨。</text></g>
<g id="b2-5b3"><text class="t" x="2034" y="2014.4">3.试试身手：第23页做一做。</text></g>
<g id="b2-5c1"><text class="t" x="2034" y="2065.3">1.小组合作，利用课本24页的表格，用恰当的<tspan x="2034" dy="14.8">方法找出100以内的质数，做一个质数表。</tspan></text></g>
<g id="b2-5c2"><text class="t" x="2034" y="2130.6">2.展示、交流：你们是怎样找出100以内质数<tspan x="2034" dy="14.8">的?</tspan></text></g>
<g id="b2-5c3"><text class="t" x="2034" y="2195.9">3.小组讨论：(1)有没有最大的质数或合数?(2)<tspan x="2034" dy="14.8">根据因数的个数，可把非零自然数分成哪几类</tspan><tspan x="2034" dy="14.8">?</tspan></text></g>
<g id="b2-5c3a"><text class="t" x="2294" y="2210.7">我的想法____________________________</text></g>
<g id="b2-5c4"><text class="t" x="2034" y="2275.5">4.我能很快熟记20以内的质数。</text></g>
<g id="b2-5c5"><text class="t" x="2034" y="2366.9">5.独立思考：</text></g>
<g id="b2-5c5a"><text class="t" x="2133.5" y="2326.4">(1)是不是所有的质数都是奇数?(2)是不是所有<tspan x="2133.5" dy="14.8">的奇数都是质数?</tspan></text></g>
<g id="b2-5c5b"><text class="t" x="2133.5" y="2391.6">(3)是不是所有的合数都是偶数?(4)是不是所有<tspan x="2133.5" dy="14.8">的偶数都是合数?</tspan></text></g>
<g id="b2-5c6"><text class="t" x="2034" y="2457.2">6.组内交流。</text></g>

<g id="b4"><rect x="1534" y="2832" width="280" height="53" rx="22" class="bn"/><text class="bt" x="1559.5" y="2855.5">人教版一年级数学下册十几减76最<tspan x="1559.5" dy="20">新2021教案4</tspan></text></g>
<g id="b4-1"><text class="t" x="1843" y="2508">教学内容：</text></g>
<g id="b4-2"><text class="t" x="1843" y="2623.8">教学目标：</text></g>
<g id="b4-3"><text class="t" x="1843" y="3219.2">教学过程：</text></g>
<g id="b4-1a"><text class="t" x="1933" y="2508">课本第77~78页(长方形和正方形面积的计算)</text></g>
<g id="b4-2a"><text class="t" x="1933" y="2559">1、使学生在参与长方形和正方形面积公式的<tspan x="1933" dy="14.8">推导中，掌握长方形和正方形面积的计算方法</tspan><tspan x="1933" dy="14.8">。</tspan></text></g>
<g id="b4-2b"><text class="t" x="1933" y="2668.6">2、在学生实际操作，抽象概括，得出一般结<tspan x="1933" dy="14.8">论中，培养学生主动探索的精神。</tspan></text></g>
<g id="b4-2b1"><text class="t" x="2194.4" y="2638.9">教学重、难点：探究长方形、正方形面积的计<tspan x="2194.4" dy="14.8">算方法。</tspan></text></g>
<g id="b4-2b2"><text class="t" x="2194.4" y="2703.6">学具准备：每人15个1平方厘米的正方形</text></g>
<g id="b4-3a"><text class="t" x="1933" y="2865.4">一、复习</text></g>
<g id="b4-3b"><text class="t" x="1933" y="3247.1">二、新课</text></g>
<g id="b4-3c"><text class="t" x="1933" y="3497.8">三、巩固</text></g>
<g id="b4-3d"><text class="t" x="1933" y="3574.3">四、小结</text></g>
<g id="b4-3a1"><text class="t" x="2012" y="2776.6">1、长方形和正方形的特征(出示长5厘米、宽<tspan x="2012" dy="14.8">15厘米的长方形，边长3厘米的正方形)</tspan></text></g>
<g id="b4-3a2"><text class="t" x="2012" y="2947">2、面积和面积单位</text></g>
<g id="b4-3a1a"><text class="t" x="2272" y="2754.4">(1)这两个分别是什么图形?为什么?</text></g>
<g id="b4-3a1b"><text class="t" x="2272" y="2805">(2)动手量出长方形的长和宽，正方形的边长<tspan x="2272" dy="14.8">。</tspan></text></g>
<g id="b4-3a2a"><text class="t" x="2142" y="2870.1">(1)什么是面积?请生摸摸长方形和正方形的面<tspan x="2142" dy="14.8">积，常用的面积单位是什么?</tspan></text></g>
<g id="b4-3a2b"><text class="t" x="2142" y="2935.2">(2)同桌合作，动手测量长方形和正方形的面<tspan x="2142" dy="14.8">积。(在桌子上用1平方厘米的面积单位有次序</tspan><tspan x="2142" dy="14.8">地将长方形和正方形摆满)</tspan></text></g>
<g id="b4-3a2c"><text class="t" x="2142" y="3015">(3)汇报结果</text></g>
<g id="b4-3b1"><text class="t" x="2012" y="3096">1、导入</text></g>
<g id="b4-3b2"><text class="t" x="2012" y="3190.5">2、猜想</text></g>
<g id="b4-3b3"><text class="t" x="2012" y="3284.6">3、验证</text></g>
<g id="b4-3b4"><text class="t" x="2012" y="3396.4">4、概括</text></g>
<g id="b4-3b1a"><text class="t" x="2086" y="3066.4">上面用面积单位测量出了长方形和正方形的面<tspan x="2086" dy="14.8">积，但要测量黑板、草场或更大的地面面积，</tspan><tspan x="2086" dy="14.8">使用面积单位一排一排的实际测量行吗?今天</tspan><tspan x="2086" dy="14.8">就寻找一个计算长方形、正方形面积的规律，</tspan><tspan x="2086" dy="14.8">推导出计算公式。</tspan></text></g>
<g id="b4-3b2a"><text class="t" x="2086" y="3175.7">请仔细观察刚才摆的面积单位，沿长边摆了几<tspan x="2086" dy="14.8">个?长是多少?沿宽边摆了几个?宽是多少?你发</tspan><tspan x="2086" dy="14.8">现了什么?小组讨论、交流汇报</tspan></text></g>
<g id="b4-3b3a"><text class="t" x="2086" y="3256.7">同桌合作，完成课本第77页例2的(2)</text></g>
<g id="b4-3b3b"><text class="t" x="2086" y="3307.1">观察比较，长方形的面积与它的长和宽有什么<tspan x="2086" dy="14.8">关系?</tspan></text></g>
<g id="b4-3b4a"><text class="t" x="2086" y="3372.3">(1)长方形的面积等于_______</text></g>
<g id="b4-3b4a1"><text class="t" x="2264" y="3372.3">要用公式计算长方形面积必须知道什么条件?</text></g>
<g id="b4-3b4b"><text class="t" x="2086" y="3422.4">(2)想一想：同桌讨论</text></g>
<g id="b4-3b4b1"><text class="t" x="2223.5" y="3422.4">正方形的面积=____________</text></g>
<g id="b4-3c1"><text class="t" x="2012" y="3473">1、完成课本第78做一做</text></g>
<g id="b4-3c2"><text class="t" x="2012" y="3523.8">2、完成课本第79页1、2、3、4</text></g>
</g>
</svg>
